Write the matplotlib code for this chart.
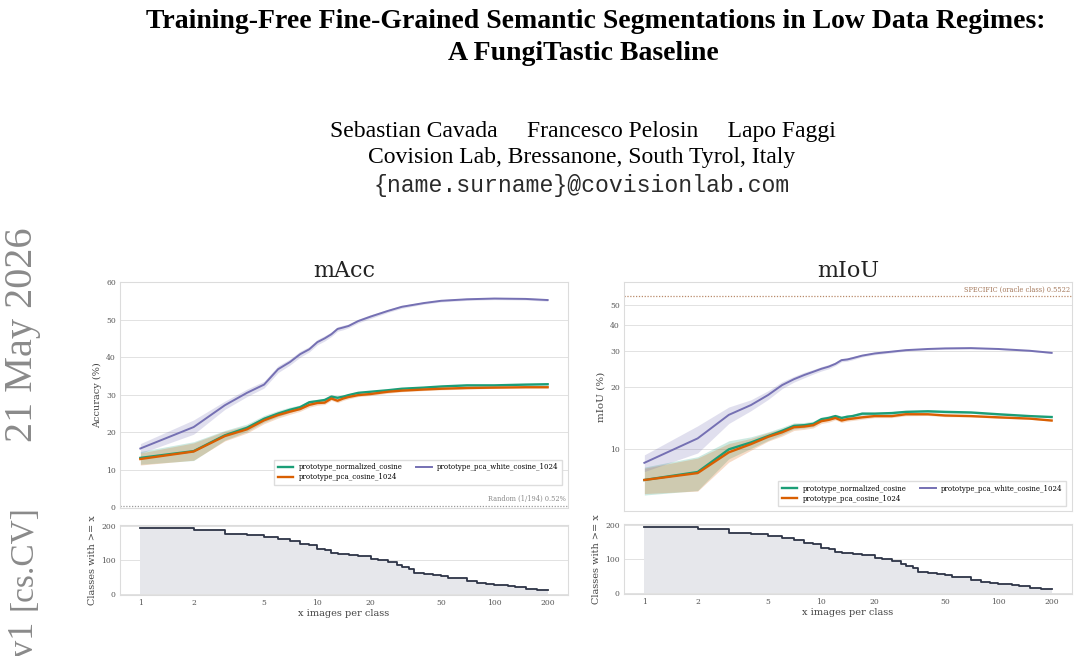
import numpy as np
import matplotlib
matplotlib.use("Agg")
import matplotlib.pyplot as plt
from matplotlib.ticker import FixedLocator, FixedFormatter, NullLocator

# ---------------- data ----------------
x_images = [1, 2, 3, 4, 5, 6, 7, 8, 9, 10, 11, 12, 13, 14, 15, 17, 20, 25, 30, 40, 50, 70, 100, 150, 200]

macc_normalized = [13.2, 15.0, 19.2, 21.2, 23.6, 25.0, 26.0, 26.7, 28.0, 28.3, 28.6, 29.5, 29.2, 29.5, 29.9,
                   30.5, 30.8, 31.2, 31.6, 31.9, 32.2, 32.5, 32.5, 32.7, 32.8]
macc_pca = [12.9, 14.9, 19.0, 20.8, 23.2, 24.6, 25.5, 26.2, 27.3, 27.8, 27.9, 29.0, 28.4, 29.0, 29.4,
            29.9, 30.2, 30.8, 31.1, 31.4, 31.6, 31.8, 31.9, 32.0, 32.0]
macc_white = [15.7, 21.4, 27.2, 30.5, 32.7, 36.8, 38.7, 40.8, 42.1, 44.0, 45.0, 46.1, 47.5, 47.9, 48.3,
              49.6, 50.8, 52.3, 53.4, 54.4, 55.0, 55.4, 55.6, 55.5, 55.2]
macc_normalized_std = [1.7, 2.5, 1.3, 1.0, 0.9, 0.8, 0.7, 0.6, 0.5, 0.5, 0.5, 0.5, 0.4, 0.4, 0.4,
                       0.4, 0.3, 0.3, 0.3, 0.3, 0.3, 0.2, 0.2, 0.2, 0.2]
macc_pca_std = [1.6, 2.3, 1.3, 1.0, 0.9, 0.8, 0.7, 0.6, 0.6, 0.6, 0.5, 0.5, 0.5, 0.5, 0.5,
                0.4, 0.4, 0.4, 0.3, 0.3, 0.3, 0.3, 0.2, 0.2, 0.2]
macc_white_std = [1.3, 1.9, 1.1, 1.0, 0.9, 0.9, 0.8, 0.8, 0.7, 0.7, 0.7, 0.6, 0.6, 0.6, 0.5,
                  0.5, 0.5, 0.4, 0.4, 0.3, 0.3, 0.3, 0.3, 0.3, 0.3]

miou_normalized = [7.1, 7.76, 10.0, 10.8, 11.6, 12.3, 13.0, 13.1, 13.3, 14.0, 14.2, 14.5, 14.2, 14.4, 14.5,
                   14.9, 14.9, 15.0, 15.2, 15.3, 15.2, 15.1, 14.8, 14.5, 14.35]
miou_pca = [7.1, 7.67, 9.67, 10.6, 11.5, 12.1, 12.8, 12.9, 13.1, 13.7, 13.9, 14.2, 13.8, 14.0, 14.1,
            14.3, 14.5, 14.5, 14.8, 14.8, 14.6, 14.5, 14.3, 14.1, 13.8]
miou_white = [8.6, 11.3, 14.7, 16.4, 18.35, 20.5, 21.9, 22.95, 23.8, 24.6, 25.2, 26.0, 27.1, 27.3, 27.7,
              28.5, 29.2, 29.8, 30.3, 30.7, 30.9, 31.0, 30.7, 30.1, 29.4]
miou_normalized_std = [1.1, 1.45, 1.0, 0.7, 0.55, 0.5, 0.45, 0.4, 0.4, 0.35, 0.35, 0.3, 0.3, 0.3, 0.3,
                       0.3, 0.25, 0.25, 0.25, 0.2, 0.2, 0.15, 0.15, 0.1, 0.1]
miou_pca_std = [1.0, 1.4, 1.0, 0.7, 0.55, 0.5, 0.45, 0.4, 0.4, 0.35, 0.35, 0.3, 0.3, 0.3, 0.3,
                0.3, 0.25, 0.25, 0.25, 0.2, 0.2, 0.15, 0.15, 0.1, 0.1]
miou_white_std = [0.8, 1.7, 1.35, 1.0, 0.9, 0.8, 0.7, 0.7, 0.6, 0.6, 0.6, 0.5, 0.5, 0.5, 0.5,
                  0.4, 0.4, 0.4, 0.3, 0.3, 0.3, 0.3, 0.2, 0.2, 0.2]

class_x = [1, 2, 3, 4, 5, 6, 7, 8, 9, 10, 11, 12, 13, 15, 17, 20, 22, 25, 28, 30, 33, 35, 40, 45,
           50, 55, 65, 70, 80, 90, 100, 120, 130, 150, 175, 200]
class_counts = [194, 187, 177, 173, 167, 163, 157, 148, 143, 133, 128, 122, 118, 115, 111, 103, 100, 93,
                86, 80, 73, 63, 60, 55, 52, 48, 46, 38, 32, 29, 25, 23, 21, 16, 13, 13]

series_names = ["prototype_normalized_cosine", "prototype_pca_cosine_1024", "prototype_pca_white_cosine_1024"]
series_colors = ["#1b9e77", "#d95f02", "#7570b3"]
x_ticks = [1, 2, 5, 10, 20, 50, 100, 200]
x_tick_labels = ["1", "2", "5", "10", "20", "50", "100", "200"]
miou_ticks = [10, 20, 30, 40, 50]
random_level = 0.52
oracle_level = 55.22

# ---------------- figure ----------------
W, H = 1080, 656
fig = plt.figure(figsize=(W / 100, H / 100), dpi=100)
fig.patch.set_facecolor("white")

def fx(px):
    return px / W

def fy(py):
    return 1 - py / H

serif_page = "Liberation Serif"
fig.text(fx(596), fy(21), "Training-Free Fine-Grained Semantic Segmentations in Low Data Regimes:",
         ha="center", va="center", family=serif_page, weight="bold", fontsize=20, color="black")
fig.text(fx(583), fy(53), "A FungiTastic Baseline",
         ha="center", va="center", family=serif_page, weight="bold", fontsize=20, color="black")
fig.text(fx(583), fy(131), "Sebastian Cavada     Francesco Pelosin     Lapo Faggi",
         ha="center", va="center", family=serif_page, fontsize=17, color="black")
fig.text(fx(582), fy(158), "Covision Lab, Bressanone, South Tyrol, Italy",
         ha="center", va="center", family=serif_page, fontsize=17, color="black")
fig.text(fx(582), fy(186), "{name.surname}@covisionlab.com",
         ha="center", va="center", family="Liberation Mono", fontsize=16.7, color="#2a2a2a")

# arXiv side stamp
side_kw = dict(rotation=90, ha="center", va="top", family=serif_page, color="#8a8a8a")
fig.text(fx(23), fy(227), "21 May 2026", fontsize=29, **side_kw)
fig.text(fx(23), fy(505), "[cs.CV]", fontsize=24, **side_kw)
fig.text(fx(23), fy(620), "2v1", fontsize=26, **side_kw)

# ---------------- axes ----------------
chart_font = "DejaVu Serif"
axA = fig.add_axes([fx(120), fy(507.5), fx(568) - fx(120), fy(282) - fy(507.5)])
axAc = fig.add_axes([fx(120), fy(595), fx(568) - fx(120), fy(525) - fy(595)], sharex=axA)
axB = fig.add_axes([fx(624), fy(511), fx(1072) - fx(624), fy(282) - fy(511)])
axBc = fig.add_axes([fx(624), fy(594), fx(1072) - fx(624), fy(524) - fy(594)], sharex=axB)

def style(ax):
    ax.set_facecolor("white")
    for s in ax.spines.values():
        s.set_color("#dcdcdc")
        s.set_linewidth(0.8)
    ax.tick_params(length=0, labelsize=5.5, colors="#555555", pad=3)
    for lab in ax.get_xticklabels() + ax.get_yticklabels():
        lab.set_family(chart_font)
    ax.grid(axis="y", color="#e2e2e2", linewidth=0.7)
    ax.set_axisbelow(True)

def plot_series(ax, means, stds):
    for m, s, c in zip(means, stds, series_colors):
        m = np.asarray(m)
        s = np.asarray(s)
        ax.fill_between(x_images, m - s, m + s, color=c, alpha=0.22, linewidth=0)
    for m, c, n in zip(means, series_colors, series_names):
        lw = 1.7 if c != series_colors[2] else 1.4
        ax.plot(x_images, m, color=c, lw=lw, label=n)

def setup_x(ax, ax_counts):
    ax.set_xscale("log")
    ax.set_xlim(10 ** -0.115, 10 ** (np.log10(200) + 0.115))
    ax_counts.xaxis.set_major_locator(FixedLocator(x_ticks))
    ax_counts.xaxis.set_major_formatter(FixedFormatter(x_tick_labels))
    ax_counts.xaxis.set_minor_locator(NullLocator())
    ax.tick_params(labelbottom=False)

def counts_panel(ax):
    ax.fill_between(class_x, class_counts, 0, step="post", color="#e6e7eb", linewidth=0)
    ax.step(class_x, class_counts, where="post", color="#2d3446", lw=1.3)
    ax.set_ylim(-3, 203)
    ax.set_yticks([0, 100, 200])
    ax.set_ylabel("Classes with >= x", fontsize=7, family=chart_font, color="#444444", labelpad=3)
    ax.set_xlabel("x images per class", fontsize=7, family=chart_font, color="#444444", labelpad=1)

def legend(ax, anchor):
    ax.legend(ncol=2, loc="lower right", bbox_to_anchor=anchor,
              prop={"family": chart_font, "size": 5}, frameon=True, fancybox=False,
              edgecolor="#dddddd", framealpha=1, handlelength=2.2, columnspacing=2.0,
              handletextpad=0.8, borderpad=0.5, labelspacing=0.3)

# --- mAcc ---
plot_series(axA, [macc_normalized, macc_pca, macc_white], [macc_normalized_std, macc_pca_std, macc_white_std])
axA.axhline(random_level, color="#9a9a9a", lw=0.9, ls=(0, (1, 1.3)))
axA.text(0.995, random_level + 0.6, "Random (1/194) 0.52%", transform=axA.get_yaxis_transform(),
         ha="right", va="bottom", fontsize=4.8, family=chart_font, color="#8a8a8a")
axA.set_ylim(0, 60)
axA.set_yticks([0, 10, 20, 30, 40, 50, 60])
axA.set_ylabel("Accuracy (%)", fontsize=7, family=chart_font, color="#444444", labelpad=3)
axA.set_title("mAcc", fontsize=16, family=chart_font, color="#222222", pad=3)
legend(axA, (0.995, 0.085))

# --- mIoU ---
plot_series(axB, [miou_normalized, miou_pca, miou_white], [miou_normalized_std, miou_pca_std, miou_white_std])
axB.axhline(oracle_level, color="#b98a6a", lw=0.9, ls=(0, (1, 1.3)))
axB.text(0.995, oracle_level * 1.03, "SPECIFIC (oracle class) 0.5522", transform=axB.get_yaxis_transform(),
         ha="right", va="bottom", fontsize=4.8, family=chart_font, color="#a5795c")
axB.set_yscale("log")
axB.set_ylim(5.02, 64.9)
axB.yaxis.set_major_locator(FixedLocator(miou_ticks))
axB.yaxis.set_major_formatter(FixedFormatter([str(t) for t in miou_ticks]))
axB.yaxis.set_minor_locator(NullLocator())
axB.set_ylabel("mIoU (%)", fontsize=7.5, family=chart_font, color="#444444", labelpad=3)
axB.set_title("mIoU", fontsize=16, family=chart_font, color="#222222", pad=3)
legend(axB, (0.995, 0.005))

for ax, axc in [(axA, axAc), (axB, axBc)]:
    counts_panel(axc)
    setup_x(ax, axc)
    style(ax)
    style(axc)

fig.savefig("out.png", dpi=100, facecolor="white")
